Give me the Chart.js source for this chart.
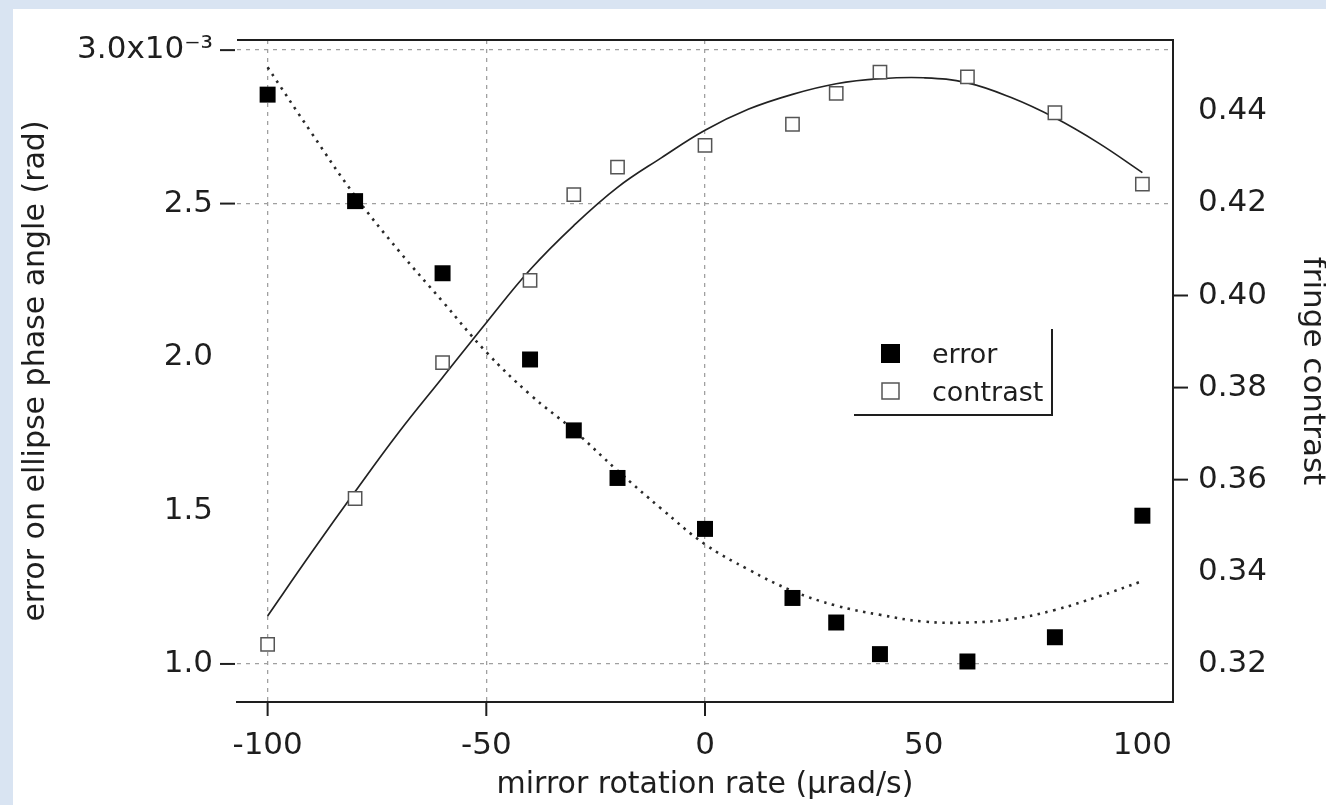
<!DOCTYPE html>
<html>
<head>
<meta charset="utf-8">
<script src="https://cdn.jsdelivr.net/npm/chart.js@4.4.0/dist/chart.umd.min.js"></script>
<style>
  html, body { margin: 0; padding: 0; background: #d9e4f2; overflow: hidden; }
  canvas { display: block; }
</style>
</head>
<body>
<canvas id="chart" width="1326" height="805"></canvas>
<script>
// measured points (mirror rotation rate in urad/s)
const rates = [-100, -80, -60, -40, -30, -20, 0, 20, 30, 40, 60, 80, 100];
const errorValues = [2.855, 2.508, 2.273, 1.992, 1.761, 1.606, 1.440, 1.215, 1.135, 1.032, 1.008, 1.087, 1.483];
const contrastValues = [0.3242, 0.3559, 0.3854, 0.4033, 0.4219, 0.4279, 0.4326, 0.4372, 0.4439, 0.4485, 0.4475, 0.4397, 0.4242];

// fitted curves
const fitRates = [-100, -90, -80, -70, -60, -50, -40, -30, -20, -10, 0, 10, 20, 30, 40, 50, 60, 70, 80, 90, 100];
const errorFit = [2.944, 2.731, 2.525, 2.346, 2.181, 2.016, 1.878, 1.761, 1.630, 1.506, 1.390, 1.307, 1.238, 1.190, 1.160, 1.138, 1.135, 1.146, 1.176, 1.220, 1.270];
const contrastFit = [0.3304, 0.3441, 0.3574, 0.3703, 0.3822, 0.3941, 0.4056, 0.4152, 0.4235, 0.4299, 0.4359, 0.4405, 0.4437, 0.4460, 0.4471, 0.4473, 0.4462, 0.4430, 0.4386, 0.4331, 0.4267];

// axes
const xTicks = [-100, -50, 0, 50, 100];
const leftTicks = [1.0, 1.5, 2.0, 2.5, 3.0];
const rightTicks = [0.32, 0.34, 0.36, 0.38, 0.40, 0.42, 0.44];
const xGridAt = [-100, -50, 0];
const leftGridAt = [1.0, 2.5, 3.0];
const rightTickAt = [0.36, 0.38, 0.40];

const toPoints = (xs, ys) => xs.map((x, i) => ({ x: x, y: ys[i] }));
const setTicks = list => scale => { scale.ticks = list.map(v => ({ value: v })); };
const gridAt = list => c => (c.tick && list.includes(c.tick.value)) ? GRID : NONE;
const fixWidth = w => s => { s.width = w; s.paddingTop = 0; s.paddingBottom = 0; };

const GRID = '#a0a0a0';
const INK = '#1e1e1e';
const NONE = 'rgba(0,0,0,0)';

Chart.defaults.font.family = 'DejaVu Sans';
Chart.defaults.color = INK;

function line(ctx, x1, y1, x2, y2) {
    ctx.beginPath();
    ctx.moveTo(x1, y1);
    ctx.lineTo(x2, y2);
    ctx.stroke();
}

const frame = {
    id: 'frame',
    beforeDraw(chart) {
        const ctx = chart.ctx;
        ctx.save();
        ctx.fillStyle = '#d9e4f2';
        ctx.fillRect(0, 0, chart.width, chart.height);
        ctx.fillStyle = '#ffffff';
        ctx.fillRect(13, 9, chart.width - 13, chart.height - 9);
        ctx.restore();
    },
    afterDraw(chart) {
        const ctx = chart.ctx;
        const a = chart.chartArea;
        const { x, y, y2 } = chart.scales;
        ctx.save();
        ctx.strokeStyle = INK;
        ctx.lineWidth = 2;

        // top edge of the frame
        line(ctx, a.left, a.top, a.right + 1, a.top);

        // the few tick marks that are drawn
        xGridAt.forEach(v => {
            const px = x.getPixelForValue(v);
            line(ctx, px, a.bottom, px, a.bottom + 14);
        });
        leftGridAt.forEach(v => {
            const py = y.getPixelForValue(v);
            line(ctx, a.left - 17, py, a.left - 2, py);
        });
        rightTickAt.forEach(v => {
            const py = y2.getPixelForValue(v);
            line(ctx, a.right, py, a.right + 15, py);
        });

        // legend box (right and bottom edges only)
        ctx.beginPath();
        ctx.moveTo(1052, 329);
        ctx.lineTo(1052, 415);
        ctx.lineTo(854, 415);
        ctx.stroke();

        ctx.fillStyle = '#000';
        ctx.fillRect(881, 344, 19, 19);
        ctx.fillStyle = '#fff';
        ctx.fillRect(882, 383, 17, 16);
        ctx.strokeStyle = '#555';
        ctx.lineWidth = 1.5;
        ctx.strokeRect(882, 383, 17, 16);

        ctx.fillStyle = INK;
        ctx.font = '27px "DejaVu Sans"';
        ctx.textBaseline = 'alphabetic';
        ctx.textAlign = 'left';
        ctx.fillText('error', 932, 363);
        ctx.fillText('contrast', 932, 401);
        ctx.restore();
    }
};

new Chart(document.getElementById('chart'), {
    type: 'scatter',
    data: {
        datasets: [
            {
                label: 'error',
                data: toPoints(rates, errorValues),
                yAxisID: 'y',
                pointStyle: 'rect',
                pointRadius: 11.3,
                pointBackgroundColor: '#000',
                pointBorderWidth: 0,
                order: 0
            },
            {
                label: 'contrast',
                data: toPoints(rates, contrastValues),
                yAxisID: 'y2',
                pointStyle: 'rect',
                pointRadius: 9.4,
                pointBackgroundColor: '#fff',
                pointBorderColor: '#555',
                pointBorderWidth: 1.5,
                order: 0
            },
            {
                label: 'error fit',
                data: toPoints(fitRates, errorFit),
                yAxisID: 'y',
                showLine: true,
                pointRadius: 0,
                borderColor: '#2a2a2a',
                borderWidth: 2.6,
                borderDash: [2.5, 5.5],
                tension: 0.4,
                order: 1
            },
            {
                label: 'contrast fit',
                data: toPoints(fitRates, contrastFit),
                yAxisID: 'y2',
                showLine: true,
                pointRadius: 0,
                borderColor: '#222',
                borderWidth: 1.7,
                tension: 0.4,
                order: 1
            }
        ]
    },
    options: {
        responsive: false,
        animation: false,
        layout: { padding: { top: 40, left: 0, right: 0, bottom: 0 } },
        plugins: {
            legend: { display: false },
            tooltip: { enabled: false }
        },
        scales: {
            x: {
                type: 'linear',
                position: 'bottom',
                min: -107,
                max: 107,
                afterBuildTicks: setTicks(xTicks),
                afterFit: s => { s.height = 103; },
                grid: {
                    color: gridAt(xGridAt),
                    lineWidth: 1.3,
                    drawTicks: false
                },
                border: { display: true, color: INK, width: 2, dash: [4, 5] },
                ticks: {
                    padding: 25,
                    font: { size: 31 },
                    maxRotation: 0,
                    callback: v => String(v)
                },
                title: {
                    display: true,
                    text: 'mirror rotation rate (\u03bcrad/s)',
                    font: { size: 30 },
                    padding: { top: 0, bottom: 2 }
                }
            },
            y: {
                type: 'linear',
                position: 'left',
                min: 0.876,
                max: 3.033,
                afterBuildTicks: setTicks(leftTicks),
                afterFit: fixWidth(237),
                grid: {
                    color: gridAt(leftGridAt),
                    lineWidth: 1.3,
                    drawTicks: false
                },
                border: { display: false, dash: [4, 5] },
                ticks: {
                    padding: 24,
                    font: { size: 31 },
                    callback: v => v === 3 ? '3.0x10\u207b\u00b3' : v.toFixed(1)
                },
                title: {
                    display: true,
                    text: 'error on ellipse phase angle (rad)',
                    font: { size: 30 },
                    padding: { top: 18, bottom: 0 }
                }
            },
            y2: {
                type: 'linear',
                position: 'right',
                min: 0.3117,
                max: 0.4555,
                afterBuildTicks: setTicks(rightTicks),
                afterFit: fixWidth(153),
                grid: {
                    drawOnChartArea: false,
                    drawTicks: false,
                    color: NONE
                },
                border: { display: true, color: INK, width: 2 },
                ticks: {
                    padding: 25,
                    font: { size: 31 },
                    callback: v => v.toFixed(2)
                },
                title: {
                    display: true,
                    text: 'fringe contrast',
                    font: { size: 31 },
                    padding: { top: -5, bottom: 0 }
                }
            }
        }
    },
    plugins: [frame]
});
</script>
</body>
</html>
